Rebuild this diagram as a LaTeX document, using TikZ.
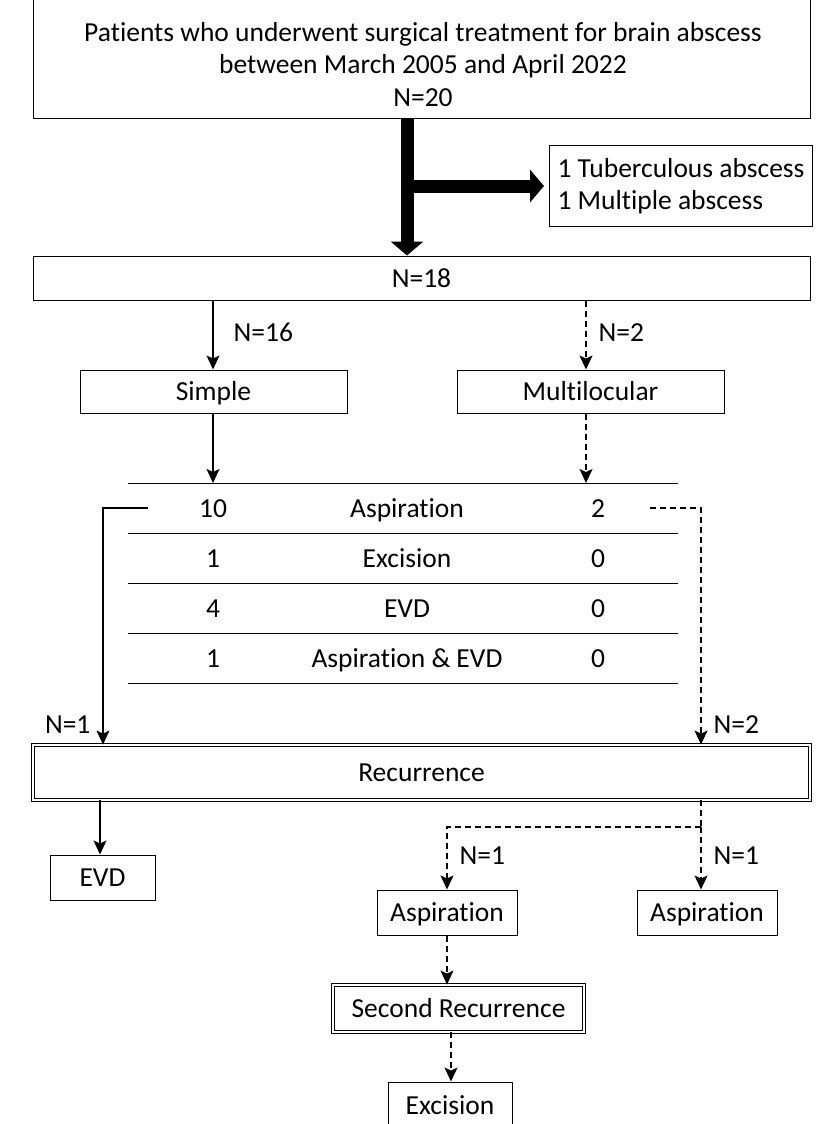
\documentclass[tikz,border=0pt]{standalone}
\usepackage{fontspec}
\setmainfont{Carlito}[Ligatures=NoCommon]
\usetikzlibrary{arrows.meta}
\tikzset{
  every node/.style={font=\fontsize{27.5}{32.5}\selectfont},
  box/.style={draw, line width=1pt, inner sep=0pt, align=center, text height=21pt, text depth=3pt},
  dbox/.style={box, double, line width=0.9pt, double distance=2pt},
  lab/.style={inner sep=0pt, text height=18pt, text depth=6pt},
  cell/.style={inner sep=0pt, text height=21pt, text depth=3pt},
  arr/.style={-{Stealth[length=14pt,width=13pt,inset=3pt]}, line width=1.2pt},
  darr/.style={arr, dash pattern=on 6pt off 4pt},
  fat/.style={line width=13pt, -{Triangle[length=14pt,width=32pt]}},
}
\begin{document}
\begin{tikzpicture}[x=1pt,y=-1pt]
\useasboundingbox (0,0) rectangle (817,1124);
% top part
\node[box, minimum width=777pt, minimum height=118pt] (top) at (421.5,59) {};
\node[inner sep=0pt, align=center] (toptext) at (423,64.5)
  {Patients who underwent surgical treatment for brain abscess\\between March 2005 and April 2022\\N=20};
\node[draw, line width=1pt, minimum height=81pt, inner xsep=8pt, align=left, anchor=west] (excl) at (549,186)
  {1 Tuberculous abscess\\1 Multiple abscess};
\node[box, minimum width=777pt, minimum height=44pt] (n18) at (421.5,278) {N=18};
\coordinate (spine) at (407,0);
\draw[fat] (spine |- top.south) -- (spine |- n18.north);
\draw[fat, shorten >=5pt] ([xshift=6pt]spine |- excl.west) -- (excl.west);
% simple / multilocular
\node[box, minimum width=267pt, minimum height=43pt] (simple) at (213.5,391.5) {Simple};
\node[box, minimum width=267pt, minimum height=43pt] (multi) at (590.5,391.5) {Multilocular};
\draw[arr] (n18.south -| 213,0) -- (simple.north -| 213,0) node[lab, midway, right=20pt] {N=16};
\draw[darr] (n18.south -| 586,0) -- (multi.north -| 586,0) node[lab, midway, right=12pt] {N=2};
% table
\foreach \y in {483,533,583,633,683}
  \draw[line width=1pt] (128,\y) -- (678,\y);
\coordinate (ttop) at (407,483);
\draw[arr] (simple.south -| 213,0) -- (ttop -| 213,0);
\draw[darr] (multi.south -| 586,0) -- (ttop -| 586,0);
\foreach \a/\t/\b [count=\i] in {10/Aspiration/2, 1/Excision/0, 4/EVD/0, 1/Aspiration \& EVD/0}{
  \node[cell] (l\i) at (213,458+50*\i) {\a};
  \node[cell] (m\i) at (407,458+50*\i) {\t};
  \node[cell] (r\i) at (598,458+50*\i) {\b};
}
% recurrence
\node[dbox, minimum width=777pt, minimum height=55pt] (rec) at (421.5,772.5) {Recurrence};
\coordinate (la) at (148,508);
\coordinate (ra) at (650,508);
\draw[arr] (la) -- (103,508) -- (103,0 |- rec.north) node[lab, pos=0.93, left=12pt] {N=1};
\draw[darr] (ra) -- (701,508) -- (701,0 |- rec.north) node[lab, pos=0.93, right=12pt] {N=2};
% after recurrence
\node[box, minimum width=105pt, minimum height=45pt] (evd) at (102.5,877.5) {EVD};
\node[box, minimum width=140pt, minimum height=45pt] (asp1) at (447,912.5) {Aspiration};
\node[box, minimum width=140pt, minimum height=45pt] (asp2) at (707,912.5) {Aspiration};
\draw[arr] (rec.south -| 100,0) -- (evd.north -| 100,0);
\coordinate (split) at (701,827);
\draw[dash pattern=on 6pt off 4pt, line width=1.2pt] (split |- rec.south) -- (split);
\draw[darr] (split) -- (asp1 |- split) -- (asp1.north) node[lab, midway, right=12pt] {N=1};
\draw[darr] (split) -- (split |- asp2.north) node[lab, midway, right=12pt] {N=1};
\node[dbox, minimum width=251pt, minimum height=47pt] (rec2) at (458.5,1008.5) {Second Recurrence};
\draw[darr] (asp1.south) -- (asp1 |- rec2.north);
\node[box, minimum width=124pt, minimum height=46pt] (exc) at (450,1105) {Excision};
\draw[darr] (rec2.south -| 451,0) -- (exc.north -| 451,0);
\end{tikzpicture}
\end{document}
